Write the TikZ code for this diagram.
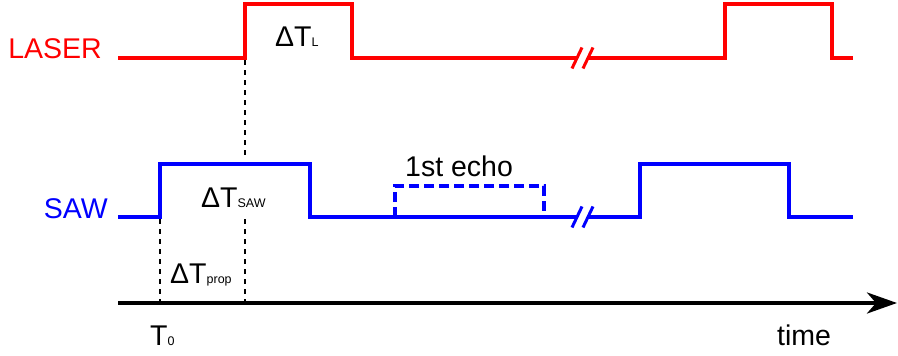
\documentclass[tikz,border=0pt]{standalone}
\usepackage{fontspec}
\setmainfont{Liberation Sans}
\usetikzlibrary{arrows.meta}
\newcommand{\subsz}[1]{{\fontsize{12.5}{12.5}\selectfont #1}}
\begin{document}
\begin{tikzpicture}[x=1pt,y=-1pt,
  laser/.style={red, line width=4pt},
  saw/.style={blue, line width=4pt},
  guide/.style={black, line width=2pt, dash pattern=on 5pt off 5pt},
  big/.style={inner sep=0pt, font=\fontsize{28.5}{32}\selectfont}]
  \useasboundingbox (0,0) rectangle (898,356);
  % laser pulses
  \draw[laser] (118,58) -- (245,58) -- (245,4) -- (352,4) -- (352,58) -- (577,58);
  \draw[laser] (588,58) -- (725,58) -- (725,4) -- (832,4) -- (832,58) -- (853,58);
  % SAW pulses and first echo
  \draw[saw] (118,217) -- (160,217) -- (160,164) -- (310,164) -- (310,217) -- (577,217);
  \draw[saw] (588,217) -- (640,217) -- (640,164) -- (789,164) -- (789,217) -- (853,217);
  \draw[saw, line width=3.5pt, dash pattern=on 10pt off 5pt] (395,217) -- (395,186) -- (544,186) -- (544,217);
  % time breaks
  \foreach \y/\c in {58/red, 217/blue} {
    \foreach \x in {577, 588} { \draw[\c, line width=3pt] (\x-5,\y+10.5) -- (\x+5,\y-10.5); }
  }
  % time axis
  \coordinate (t0) at (118,303);
  \coordinate (tend) at (897,303);
  \draw[line width=4pt, -{Stealth[length=30pt,width=21pt,inset=9pt]}] (t0) -- (tend);
  % guides
  \draw[guide] (245,60) -- (245,155);
  \draw[guide] (245,219) -- (245,303);
  \draw[guide] (160,219) -- (160,303);
  % labels
  \node[big, red, anchor=base east] (laser) at (102,58) {LASER};
  \node[big, blue, anchor=base east] (saw) at (108,218) {SAW};
  \node[big, anchor=base west] (dtl) at (275,46) {ΔT\subsz{L}};
  \node[big, anchor=base west] (dtsaw) at (201,207) {ΔT\subsz{SAW}};
  \node[big, anchor=base west] (dtprop) at (170,283) {ΔT\subsz{prop}};
  \node[big, anchor=base west] (echo) at (405,176) {1st echo};
  \node[big, anchor=base west] (tzero) at (150,345) {T\subsz{0}};
  \node[big, anchor=base west] (time) at (777,345) {time};
\end{tikzpicture}
\end{document}
